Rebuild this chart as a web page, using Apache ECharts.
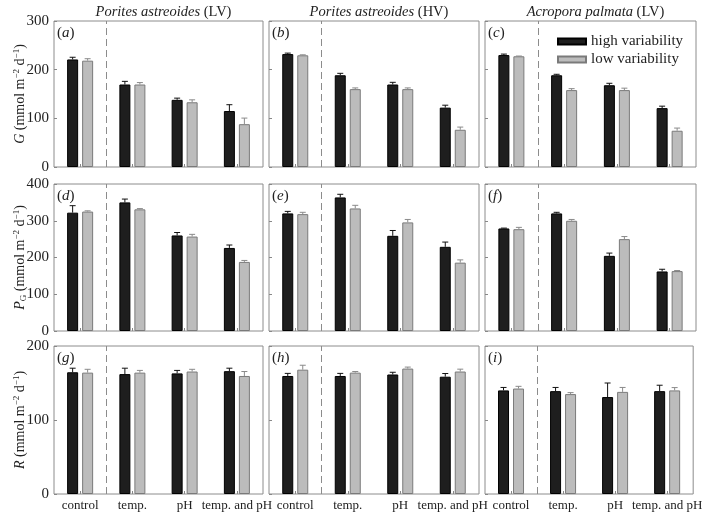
<!DOCTYPE html>
<html><head><meta charset="utf-8">
<script src="https://cdn.jsdelivr.net/npm/echarts@6/dist/echarts.min.js"></script>
<style>html,body{margin:0;padding:0;background:#fff}#c{width:705px;height:512px}</style>
</head><body><div id="c"></div>
<script>
const categories = ['control', 'temp.', 'pH', 'temp. and pH'];
const seriesNames = ['high variability', 'low variability'];
const colTitles = [['Porites astreoides', '(LV)'], ['Porites astreoides', '(HV)'], ['Acropora palmata', '(LV)']];
const panelLetters = ['a','b','c','d','e','f','g','h','i'];
const yMax = [300, 400, 200];
const yTicks = [100, 100, 100];
const dividerAfter = 1; // dashed divider between control and treatments (category boundary)

// G row
const G_a_high = [221, 169.5, 138, 115];   const G_a_high_se = [4.5, 6.5, 3.5, 13];
const G_a_low  = [218.5, 169.5, 133, 88];  const G_a_low_se  = [4, 4, 5, 12.5];
const G_b_high = [232, 188.5, 169.5, 122]; const G_b_high_se = [2, 4, 4.5, 5];
const G_b_low  = [229.5, 160, 160, 76.5];  const G_b_low_se  = [1, 2.5, 2.5, 5.5];
const G_c_high = [230, 188.5, 168, 121];   const G_c_high_se = [2, 2, 4, 4];
const G_c_low  = [227.5, 158, 158, 74.5];  const G_c_low_se  = [0.5, 3, 4, 5.5];
// PG row
const P_d_high = [322, 350, 260, 226];     const P_d_high_se = [19, 9, 8, 8];
const P_d_low  = [325, 331, 257, 188];     const P_d_low_se  = [2, 2, 6, 4];
const P_e_high = [320, 363.5, 259, 229];   const P_e_high_se = [5.5, 8.5, 14.5, 13];
const P_e_low  = [318, 333.5, 295.5, 186]; const P_e_low_se  = [5, 8.5, 8, 7.5];
const P_f_high = [279, 320, 204.5, 162];   const P_f_high_se = [1, 3, 7.5, 6];
const P_f_low  = [277, 300, 250, 163];     const P_f_low_se  = [5, 3.5, 7, 1.5];
// R row
const R_g_high = [164.5, 162, 163, 166];   const R_g_high_se = [5.5, 8, 4, 4];
const R_g_low  = [164, 164, 165.5, 159.5]; const R_g_low_se  = [4.5, 3, 3, 6];
const R_h_high = [159.5, 159.5, 161.5, 158.5]; const R_h_high_se = [3.5, 3.5, 3, 4.3];
const R_h_low  = [168, 164, 169.5, 165.5]; const R_h_low_se  = [6, 1.5, 2, 3.2];
const R_i_high = [140, 139, 131, 139];     const R_i_high_se = [4, 5, 19, 8];
const R_i_low  = [142.5, 135, 138, 140];   const R_i_low_se  = [3, 2, 6, 3.8];

const panels = [
  [G_a_high, G_a_high_se, G_a_low, G_a_low_se],
  [G_b_high, G_b_high_se, G_b_low, G_b_low_se],
  [G_c_high, G_c_high_se, G_c_low, G_c_low_se],
  [P_d_high, P_d_high_se, P_d_low, P_d_low_se],
  [P_e_high, P_e_high_se, P_e_low, P_e_low_se],
  [P_f_high, P_f_high_se, P_f_low, P_f_low_se],
  [R_g_high, R_g_high_se, R_g_low, R_g_low_se],
  [R_h_high, R_h_high_se, R_h_low, R_h_low_se],
  [R_i_high, R_i_high_se, R_i_low, R_i_low_se]
];

const FONT = 'Liberation Serif';
const TXT = '#222';
const colX = [[54, 209], [269, 210], [485, 211]];
const rowY = [[21, 146], [184, 147], [346, 148]];
const BW = 11, GAP = 4;
const barColors = [{fill: '#1e1e1e', border: '#000'}, {fill: '#bcbcbc', border: '#7a7a7a'}];
const errColors = ['#111', '#8a8a8a'];

const supS = {fontSize: 9, fontFamily: FONT, color: TXT, padding: [0, 0, 7, 0]};
const subS = {fontSize: 9, fontFamily: FONT, color: TXT, padding: [7, 0, 0, 0]};
const itS = {fontSize: 14, fontFamily: FONT, fontStyle: 'italic', color: TXT};
const nS = {fontSize: 14, fontFamily: FONT, color: TXT};
const yNames = [
  '{i|G}{n| (mmol m}{sup|−2}{n| d}{sup|−1}{n|)}',
  '{i|P}{sub|G}{n| (mmol m}{sup|−2}{n| d}{sup|−1}{n|)}',
  '{i|R}{n| (mmol m}{sup|−2}{n| d}{sup|−1}{n|)}'
];

const grids = [], xAxes = [], overlayX = [], yAxes = [], series = [], titles = [], graphics = [];

function errRender(k) {
  return function (params, api) {
    const i = api.value(0), v = api.value(1), e = api.value(2);
    const p0 = api.coord([i, v]);
    const p1 = api.coord([i, v + e]);
    const x = p0[0] + (k === 0 ? -1 : 1) * (BW + GAP) / 2;
    const st = {stroke: errColors[k], lineWidth: 1};
    return {type: 'group', children: [
      {type: 'line', shape: {x1: x, y1: p0[1], x2: x, y2: p1[1]}, style: st},
      {type: 'line', shape: {x1: x - 3, y1: p1[1], x2: x + 3, y2: p1[1]}, style: st}
    ]};
  };
}

for (let r = 0; r < 3; r++) {
  for (let c = 0; c < 3; c++) {
    const idx = r * 3 + c;
    grids.push({left: colX[c][0], width: colX[c][1], top: rowY[r][0], height: rowY[r][1],
      show: true, borderColor: '#8c8c8c', borderWidth: 1, backgroundColor: 'transparent', containLabel: false});
    xAxes.push({type: 'category', gridIndex: idx, data: categories,
      axisLine: {show: false},
      axisTick: {show: true, inside: true, length: 3, alignWithLabel: true, lineStyle: {color: '#888'}},
      axisLabel: {show: r === 2, fontFamily: FONT, fontSize: 13, color: TXT, margin: 5, interval: 0},
      splitLine: {show: false}
    });
    overlayX.push({type: 'value', gridIndex: idx, min: 0, max: categories.length, show: false});
    yAxes.push({type: 'value', gridIndex: idx, min: 0, max: yMax[r], interval: yTicks[r],
      axisLine: {show: false},
      axisTick: {show: true, inside: true, length: 3, lineStyle: {color: '#888'}},
      splitLine: {show: false},
      axisLabel: {show: c === 0, fontFamily: FONT, fontSize: 15, color: TXT, margin: 5},
      name: c === 0 ? yNames[r] : '', nameLocation: 'middle', nameGap: 26, nameRotate: 90,
      nameMoveOverlap: false,
      nameTextStyle: {rich: {i: itS, n: nS, sup: supS, sub: subS}}
    });
    const d = panels[idx];
    for (let k = 0; k < 2; k++) {
      series.push({type: 'bar', name: seriesNames[k], xAxisIndex: idx, yAxisIndex: idx,
        data: d[k * 2], barWidth: BW, barGap: (GAP / BW * 100) + '%',
        itemStyle: {color: barColors[k].fill, borderColor: barColors[k].border, borderWidth: 1},
        emphasis: {disabled: true}, z: 2});
    }
    for (let k = 0; k < 2; k++) {
      series.push({type: 'custom', name: seriesNames[k], xAxisIndex: idx, yAxisIndex: idx,
        renderItem: errRender(k),
        data: d[k * 2].map((v, i) => [i, v, d[k * 2 + 1][i]]), z: 3, silent: true});
    }
    graphics.push({type: 'text', left: colX[c][0] + 3, top: rowY[r][0] + 5,
      style: {text: '({l|' + panelLetters[idx] + '})', font: '15px "Liberation Serif"', fill: TXT,
        rich: {l: {fontSize: 15, fontFamily: FONT, fontStyle: 'italic', fill: TXT}}}});
  }
}
for (let idx = 0; idx < 9; idx++) {
  series.push({type: 'line', name: 'divider', xAxisIndex: 9 + idx, yAxisIndex: idx, data: [], silent: true,
    markLine: {silent: true, symbol: 'none', label: {show: false}, animation: false,
      lineStyle: {type: [7, 4], color: '#8c8c8c', width: 1}, data: [{xAxis: dividerAfter}]}});
}
for (let c = 0; c < 3; c++) {
  titles.push({text: '{i|' + colTitles[c][0] + '}{n| ' + colTitles[c][1] + '}',
    left: colX[c][0] + colX[c][1] / 2, top: 0, textAlign: 'center',
    textStyle: {fontWeight: 'normal', rich: {i: {fontSize: 14.5, fontFamily: FONT, fontStyle: 'italic', fontWeight: 'normal', color: TXT}, n: {fontSize: 14.5, fontFamily: FONT, fontWeight: 'normal', color: TXT}}}});
}

const chart = echarts.init(document.getElementById('c'), null, {renderer: 'canvas'});
chart.setOption({
  animation: false,
  backgroundColor: '#fff',
  title: titles,
  legend: {data: seriesNames, orient: 'vertical', left: 552, top: 29, itemWidth: 28, itemHeight: 6, itemGap: 3,
    icon: 'rect', textStyle: {fontFamily: FONT, fontSize: 15, color: TXT}, selectedMode: false},
  grid: grids, xAxis: xAxes.concat(overlayX), yAxis: yAxes, series: series, graphic: graphics
});
</script></body></html>
